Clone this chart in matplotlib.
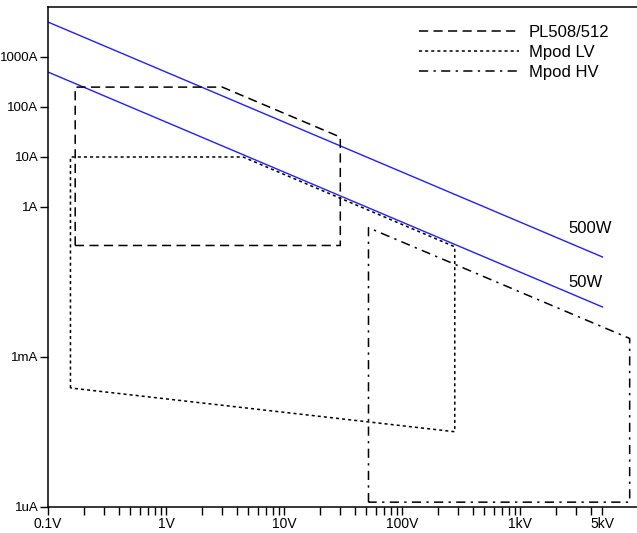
import matplotlib
matplotlib.use("Agg")
import matplotlib.pyplot as plt
import numpy as np

plt.rcParams['font.family'] = ['Liberation Sans', 'DejaVu Sans']

# power limit lines (W), drawn from 0.1V to 5kV
powers = [500, 50]
power_labels = ['500W', '50W']
v_line = np.array([0.1, 5000.0])

# supply operating regions: (volts, amps) corners
pl_v = [0.17, 0.17, 3, 30, 30, 0.17]
pl_i = [0.17, 250, 250, 25, 0.17, 0.17]

lv_v = [0.155, 0.155, 4.5, 280, 280, 0.155]
lv_i = [2.4e-4, 10, 10, 0.16, 3.2e-5, 2.4e-4]

hv_v = [52, 52, 8500, 8500, 52]
hv_i = [1.25e-6, 0.385, 2.35e-3, 1.25e-6, 1.25e-6]

x_major = [0.1, 1, 10, 100, 1000, 5000]
x_labels = ['0.1V', '1V', '10V', '100V', '1kV', '5kV']
y_major = [1e-6, 1e-3, 1, 10, 100, 1000]
y_labels = ['1uA', '1mA', '1A', '10A', '100A', '1000A']

fig = plt.figure(figsize=(6.37, 5.33), dpi=100)
ax = fig.add_axes([48 / 637, 26 / 533, 590 / 637, 500 / 533])
ax.set_xscale('log')
ax.set_yscale('log')
ax.set_xlim(0.1, 10000)
ax.set_ylim(1e-6, 1e4)

for p, lab in zip(powers, power_labels):
    ax.plot(v_line, p / v_line, color='#2020ff', lw=1.0)

ax.plot(pl_v, pl_i, color='black', lw=1.1, ls=(0, (6, 3.5)), label='PL508/512')
ax.plot(lv_v, lv_i, color='black', lw=1.1, ls=(0, (2, 2)), label='Mpod LV')
ax.plot(hv_v, hv_i, color='black', lw=1.1, ls=(0, (6, 3.5, 1.5, 3.5)), label='Mpod HV')

ax.text(2550, 0.38, power_labels[0], fontsize=12, va='center', ha='left')
ax.text(2550, 0.0316, power_labels[1], fontsize=12, va='center', ha='left')

ax.set_xticks(x_major)
ax.set_xticklabels(x_labels)
minor = [m * d for d in [0.1, 1, 10, 100] for m in range(2, 10)] + [2000, 3000, 4000]
ax.set_xticks(minor, minor=True)
ax.set_xticklabels([], minor=True)
ax.set_yticks(y_major)
ax.set_yticklabels(y_labels)
ax.set_yticks([], minor=True)

ax.tick_params(axis='x', which='both', direction='out', length=6, width=1,
               labelsize=10, pad=1.5, top=False)
ax.tick_params(axis='y', which='both', direction='out', length=6, width=1,
               labelsize=9.5, pad=0.8, right=False)
ax.spines['right'].set_visible(False)
for s in ['left', 'bottom', 'top']:
    ax.spines[s].set_linewidth(1.1)

ax.legend(loc='upper right', frameon=False, fontsize=12, handlelength=6,
          handletextpad=0.6, labelspacing=0.3, bbox_to_anchor=(0.977, 0.994))

fig.savefig('out.png', dpi=100)
